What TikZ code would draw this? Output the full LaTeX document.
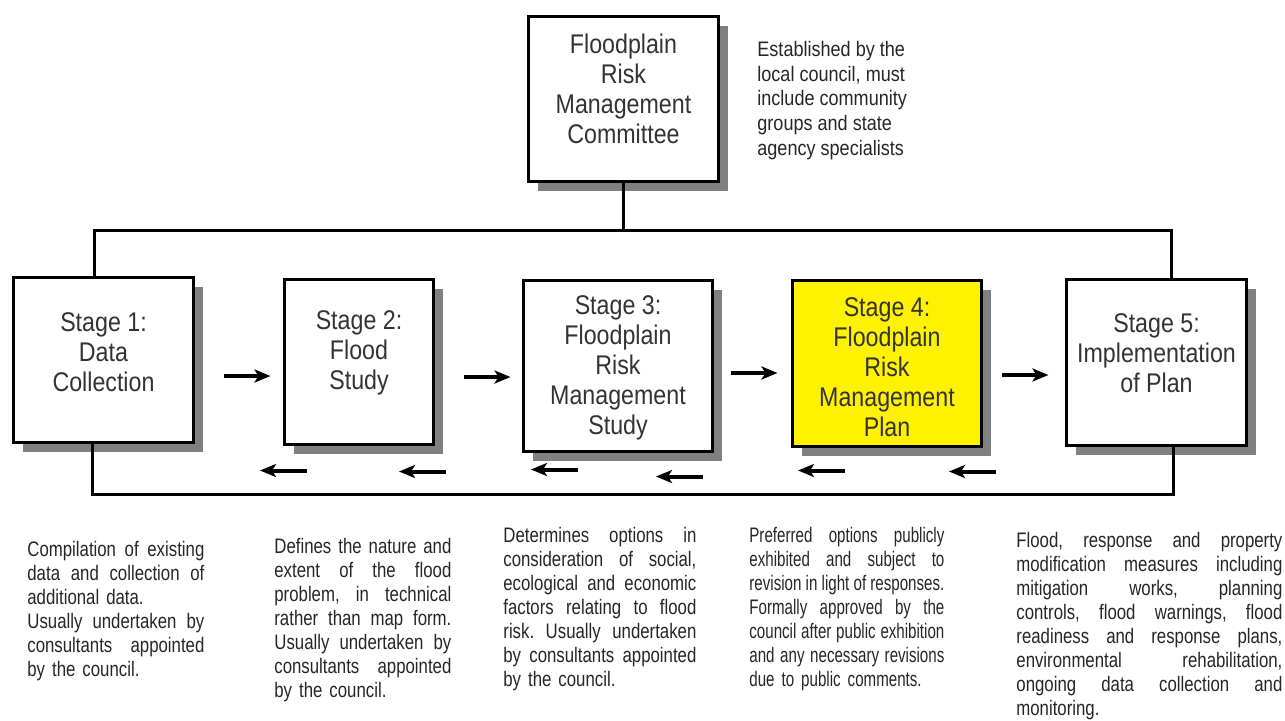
\documentclass[tikz,border=0pt]{standalone}
\usepackage{fontspec}
\setmainfont{Liberation Sans}[FakeStretch=0.86]
\newfontfamily\notefont{Liberation Sans}[FakeStretch=0.8]
\newfontfamily\notefontn{Liberation Sans}[FakeStretch=0.72]
\usetikzlibrary{arrows.meta}
\usetikzlibrary{shadows}
\newcommand{\jl}[1]{\makebox[\nw][s]{\frenchspacing\spaceskip=0pt\xspaceskip=0pt\relax#1}}
\tikzset{%
  stage/.style = {rectangle,draw,line width=1.5pt,fill=white,inner sep=0pt,
        drop shadow={shadow xshift=4.5pt,shadow yshift=-4.5pt,
        fill=black!50,opacity=1}},
  boxtxt/.style = {align=center,text=black!80,
        font=\fontsize{13.5}{15}\selectfont},
  note/.style = {anchor=north west,inner sep=0pt,align=left,text=black!85,
        text width=#1,execute at begin node={\def\nw{#1}},
        font=\notefont\fontsize{10.5}{12}\selectfont},
  link/.style = {line width=1.5pt},
  flow/.style = {-{Stealth[length=8pt,width=6.5pt,inset=2pt]},line width=2pt}
}

\begin{document}
\begin{tikzpicture}[x=0.5pt,y=-0.5pt]
    \useasboundingbox (0,0) rectangle (1285,720);
    % boxes
    \node[stage,minimum width=95pt,minimum height=82.5pt] (com) at (623.5,99) {};
    \node[stage,minimum width=90pt,minimum height=82.5pt] (s1) at (103.5,360) {};
    \node[stage,minimum width=74.5pt,minimum height=82.5pt] (s2) at (359,362) {};
    \node[stage,minimum width=94.5pt,minimum height=85.5pt] (s3) at (618,366) {};
    \node[stage,fill=yellow,minimum width=94.5pt,minimum height=83pt] (s4) at (887,363.5) {};
    \node[stage,minimum width=90pt,minimum height=83pt] (s5) at (1156.5,362.5) {};
    % box texts
    \node[boxtxt] (comt) at (623.5,88.5) {Floodplain\\Risk\\Management\\Committee};
    \node[boxtxt] (s1t) at (103.5,352) {Stage 1:\\Data\\Collection};
    \node[boxtxt] (s2t) at (359,353) {Stage 2:\\Flood\\Study};
    \node[boxtxt] (s3t) at (618,367.5) {Stage 3:\\Floodplain\\Risk\\Management\\Study};
    \node[boxtxt] (s4t) at (887,367.5) {Stage 4:\\Floodplain\\Risk\\Management\\Plan};
    \node[boxtxt] (s5t) at (1156.5,353) {Stage 5:\\Implementation\\of Plan};
    \node[anchor=west,inner sep=0pt,align=left,text=black!85,
        font=\fontsize{10.5}{12.4}\selectfont] (est) at (757,100.5)
        {Established by the\\local council, must\\include community\\groups and state\\agency specialists};

    % the two bus lines
    \coordinate (tl) at (94,230);
    \coordinate (tr) at (1171,230);
    \coordinate (bl) at (92,494);
    \coordinate (br) at (1173,494);
    \draw[link] (com.south) -- (com.south |- tl);
    \draw[link] (s1.north -| tl) -- (tl) -- (tr) -- (s5.north -| tr);
    \draw[link] (s1.south -| bl) -- (bl) -- (br) -- (s5.south -| br);

    % forward and feedback arrows
    \draw[flow] (s1.east) ++(28.5,16) -- ++(47,0);
    \draw[flow] (s2.east) ++(28.5,15) -- ++(47,0);
    \draw[flow] (s3.east) ++(16.5,7) -- ++(47,0);
    \draw[flow] (s4.east) ++(18.5,11.5) -- ++(47,0);
    \draw[flow] (s2.south) ++(-52,24.5) -- ++(-47,0);
    \draw[flow] (s2.south) ++(87,25.5) -- ++(-47,0);
    \draw[flow] (s3.south) ++(-40,16.5) -- ++(-47,0);
    \draw[flow] (s3.south) ++(85,23.5) -- ++(-47,0);
    \draw[flow] (s4.south) ++(-42,22.5) -- ++(-47,0);
    \draw[flow] (s4.south) ++(109,23.5) -- ++(-47,0);

    % notes under the stages
    \node[note=88.5pt] (n1) at (27,541) {\jl{Compilation of existing}\\
        \jl{data and collection of}\\additional data.\\\jl{Usually undertaken by}\\
        \jl{consultants appointed}\\by the council.};
    \node[note=88.5pt] (n2) at (274,538) {\jl{Defines the nature and}\\
        \jl{extent of the flood}\\\jl{problem, in technical}\\\jl{rather than map form.}\\
        \jl{Usually undertaken by}\\\jl{consultants appointed}\\by the council.};
    \node[note=96.5pt] (n3) at (503,527) {\jl{Determines options in}\\
        \jl{consideration of social,}\\\jl{ecological and economic}\\
        \jl{factors relating to flood}\\\jl{risk. Usually undertaken}\\
        \jl{by consultants appointed}\\by the council.};
    \node[note=97.5pt,font=\notefontn\fontsize{10.5}{12}\selectfont] (n4) at (749,527)
        {\jl{Preferred options publicly}\\\jl{exhibited and subject to}\\
        \jl{revision in light of responses.}\\\jl{Formally approved by the}\\
        \jl{council after public exhibition}\\\jl{and any necessary revisions}\\
        due to public comments.};
    \node[note=133pt] (n5) at (1016,532) {\jl{Flood, response and property}\\
        \jl{modification measures including}\\\jl{mitigation works, planning}\\
        \jl{controls, flood warnings, flood}\\\jl{readiness and response plans,}\\
        \jl{environmental rehabilitation,}\\\jl{ongoing data collection and}\\
        monitoring.};
\end{tikzpicture}
\end{document}
